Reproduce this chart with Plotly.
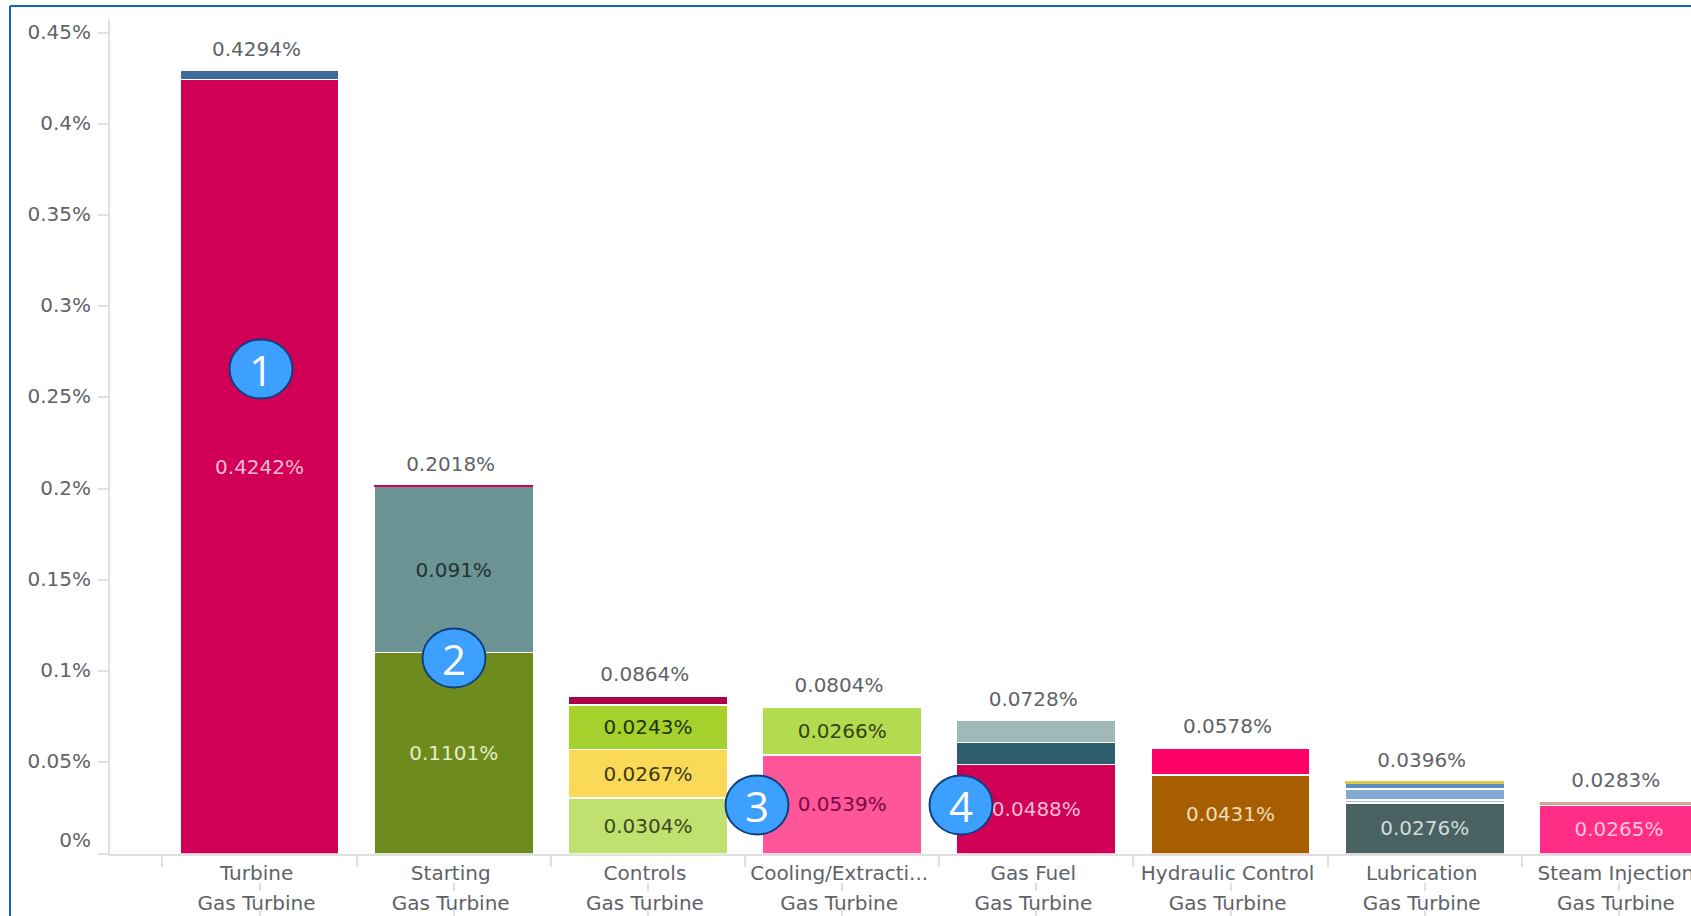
import plotly.graph_objects as go

W, H = 1691, 916

categories = ["Turbine", "Starting", "Controls", "Cooling/Extracti...", "Gas Fuel",
              "Hydraulic Control", "Lubrication", "Steam Injection"]
groups = ["Gas Turbine"] * 8
totals = [0.4294, 0.2018, 0.0864, 0.0804, 0.0728, 0.0578, 0.0396, 0.0283]
total_labels = ["0.4294%", "0.2018%", "0.0864%", "0.0804%", "0.0728%", "0.0578%", "0.0396%", "0.0283%"]

level1 = [0.4242, 0.1101, 0.0304, 0.0539, 0.0488, 0.0431, 0.0276, 0.0265]
level2 = [0.0052, 0.0910, 0.0267, 0.0265, 0.0120, 0.0147, 0.0016, 0.0018]
level3 = [None, 0.0007, 0.0243, None, 0.0120, None, 0.0062, None]
level4 = [None, None, 0.0050, None, None, None, 0.0032, None]
level5 = [None, None, None, None, None, None, 0.0010, None]

labels1 = ["0.4242%", "0.1101%", "0.0304%", "0.0539%", "0.0488%", "0.0431%", "0.0276%", "0.0265%"]
labels2 = ["", "0.091%", "0.0267%", "0.0266%", "", "", "", ""]
labels3 = ["", "", "0.0243%", "", "", "", "", ""]
labels4 = [""] * 8
labels5 = [""] * 8

colors1 = ["#D10056", "#6E8B1E", "#C0E070", "#FF5599", "#D10056", "#A65E00", "#4A6262", "#FF2D85"]
colors2 = ["#3B6C9C", "#6D9494", "#FAD958", "#B3DB50", "#2E5E6E", "#FF0066", "#A9BCD4", "#D4A88C"]
colors3 = ["#FFFFFF", "#D10056", "#A4D12C", "#FFFFFF", "#A0B8B8", "#FFFFFF", "#82AAD2", "#FFFFFF"]
colors4 = ["#FFFFFF", "#FFFFFF", "#AB0044", "#FFFFFF", "#FFFFFF", "#FFFFFF", "#5B8EC0", "#FFFFFF"]
colors5 = ["#FFFFFF"] * 6 + ["#E0C84A", "#FFFFFF"]

text1 = ["#F7BBD3", "#E6EDC8", "#3A4A20", "#7A0A45", "#F7BBD3", "#F2DDBB", "#CFDDDD", "#FFC4DC"]
text2 = ["#FFFFFF", "#1F3236", "#3F3A10", "#34450F", "#FFFFFF", "#FFFFFF", "#FFFFFF", "#FFFFFF"]
text3 = ["#FFFFFF", "#FFFFFF", "#24330A", "#FFFFFF", "#FFFFFF", "#FFFFFF", "#FFFFFF", "#FFFFFF"]

edge1 = [1.5] * 8
edge2 = [1.5] * 7 + [0.5]
edge3 = [1.5, 0, 1.5, 1.5, 1.5, 1.5, 1.5, 1.5]
edge4 = [1.5] * 8
edge5 = [0] * 8

y_ticks = [0, 0.05, 0.1, 0.15, 0.2, 0.25, 0.3, 0.35, 0.4, 0.45]
y_labels = ["0%<br> ", "0.05%", "0.1%", "0.15%", "0.2%", "0.25%", "0.3%", "0.35%", "0.4%", "0.45%"]

callout_labels = ["1", "2", "3", "4"]

FONT = "DejaVu Sans"
GREY = "#5F6368"
AXIS = "#E0E0E0"
SIZE = 20

fig = go.Figure()
levels = [
    (level1, labels1, colors1, text1, edge1),
    (level2, labels2, colors2, text2, edge2),
    (level3, labels3, colors3, text3, edge3),
    (level4, labels4, colors4, text3, edge4),
    (level5, labels5, colors5, text3, edge5),
]
for vals, labs, cols, tcols, edges in levels:
    fig.add_trace(go.Bar(
        x=categories, y=vals, width=0.82,
        marker=dict(color=cols, line=dict(color="white", width=edges)),
        text=labs, textposition="inside", insidetextanchor="middle", textangle=0,
        constraintext="none",
        textfont=dict(family=FONT, size=SIZE, color=tcols),
        hoverinfo="skip", showlegend=False,
    ))

# total labels sit on their own hidden axis, nudged a little left of the bar centres
fig.add_trace(go.Scatter(
    x=categories, y=totals, xaxis="x5", mode="markers+text", text=total_labels,
    textposition="top center", cliponaxis=False,
    marker=dict(size=14, opacity=0),
    textfont=dict(family=FONT, size=SIZE, color=GREY),
    hoverinfo="skip", showlegend=False,
))

# empty helper traces so that the extra category axes get drawn
for name in ("x2", "x3", "x4"):
    fig.add_trace(go.Scatter(x=categories, y=[None] * len(categories), xaxis=name,
                             mode="markers", hoverinfo="skip", showlegend=False))

x_range = [-0.770, 7.371]
x_dom = [110 / W, 1]
common_x = dict(type="category", categoryorder="array", categoryarray=categories, automargin=False,
                domain=x_dom, showgrid=False, zeroline=False, tickangle=0)

fig.update_layout(
    template="none",
    width=W, height=H, margin=dict(l=0, r=0, t=0, b=0, pad=0),
    paper_bgcolor="white", plot_bgcolor="white",
    barmode="stack", showlegend=False,
    font=dict(family=FONT, size=SIZE, color=GREY),
    xaxis=dict(**common_x, range=x_range, anchor="y", showline=True, linecolor=AXIS, linewidth=2,
               ticks="outside", ticklen=11, tickcolor=AXIS, tickwidth=2, tickson="boundaries",
               ticklabelshift=-3,
               tickfont=dict(family=FONT, size=SIZE, color=GREY)),
    # group names, no ticks of their own
    xaxis2=dict(**common_x, range=x_range, overlaying="x", anchor="free", position=(H - 877) / H,
                showline=False, ticks="outside", ticklen=8, tickcolor="rgba(0,0,0,0)", tickwidth=2,
                tickmode="array", tickvals=categories, ticktext=groups, ticklabelshift=-3,
                tickfont=dict(family=FONT, size=SIZE, color=GREY)),
    # short marks between and below the two label rows
    xaxis3=dict(**common_x, range=x_range, overlaying="x", anchor="free", position=(H - 908) / H,
                showline=False, ticks="outside", ticklen=8, tickcolor=AXIS, tickwidth=2,
                showticklabels=False),
    xaxis4=dict(**common_x, range=x_range, overlaying="x", anchor="free", position=(H - 882) / H,
                showline=False, ticks="outside", ticklen=8, tickcolor=AXIS, tickwidth=2,
                showticklabels=False),
    xaxis5=dict(**common_x, range=[x_range[0] + 0.016, x_range[1] + 0.016], overlaying="x",
                anchor="y", visible=False),
    yaxis=dict(domain=[(H - 853.5) / H, (H - 19) / H], range=[0, 0.4575], automargin=False,
               showgrid=False, zeroline=False, showline=True, linecolor=AXIS, linewidth=2,
               ticks="outside", ticklen=10, tickcolor=AXIS, tickwidth=2,
               ticklabelstandoff=3, ticklabelshift=-1, tickmode="array", tickvals=y_ticks, ticktext=y_labels,
               tickfont=dict(family=FONT, size=SIZE, color=GREY)),
)

# frame of the screenshot
FRAME = "#1565C0"
fig.add_shape(type="line", xref="paper", yref="paper", x0=10 / W, x1=1, y0=1 - 6 / H, y1=1 - 6 / H,
              line=dict(color=FRAME, width=2))
fig.add_shape(type="line", xref="paper", yref="paper", x0=10 / W, x1=10 / W, y0=0, y1=1 - 6 / H,
              line=dict(color=FRAME, width=2))

# numbered callouts
callout_centres = [(261, 369), (454, 658), (757, 805), (961, 805)]
for lab, (cx, cy) in zip(callout_labels, callout_centres):
    fig.add_shape(type="circle", xref="paper", yref="paper", layer="above",
                  x0=(cx - 31.5) / W, x1=(cx + 31.5) / W, y0=1 - (cy + 29.5) / H, y1=1 - (cy - 29.5) / H,
                  fillcolor="#3DA0FF", line=dict(color="#0F3F7F", width=2))
    fig.add_annotation(xref="paper", yref="paper", x=cx / W, y=1 - cy / H, text=lab, showarrow=False,
                       font=dict(family="Open Sans", size=42, color="white"),
                       xanchor="center", yanchor="middle")

fig.write_html("out.html", config={"displayModeBar": False},
               post_script="document.body.style.margin='0';document.body.style.overflow='hidden';")
